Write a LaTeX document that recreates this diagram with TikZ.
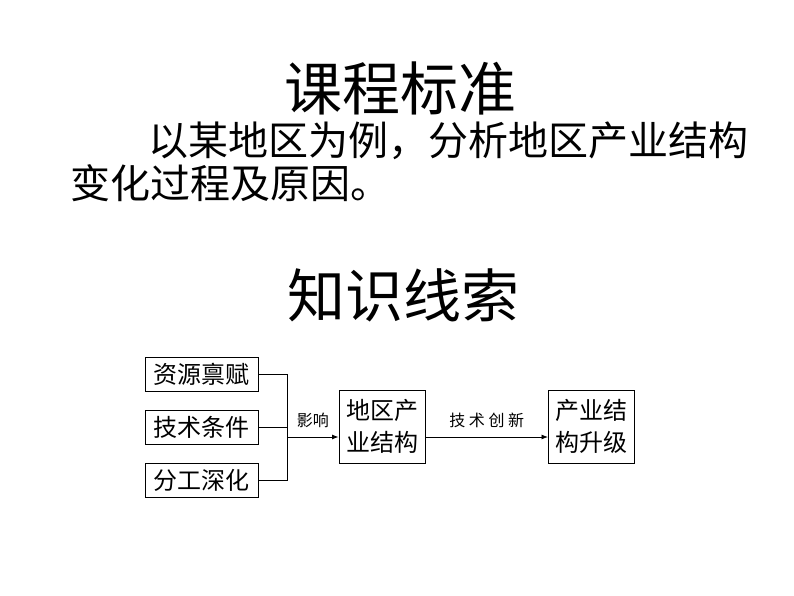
\documentclass[tikz,border=0pt]{standalone}
\usepackage{fontspec}
\setmainfont{Noto Sans CJK SC}
\usetikzlibrary{positioning,arrows.meta}
\begin{document}
\begin{tikzpicture}[x=1pt,y=-1pt,>=Latex,every node/.append style={align=center,inner sep=0pt},
  factor/.style={draw,thick,minimum width=113pt,minimum height=34pt,font=\fontsize{24}{26}\selectfont},
  stage/.style={draw,thick,minimum width=86pt,minimum height=73pt,font=\fontsize{24}{32}\selectfont},
  title/.style={font=\fontsize{58}{60}\selectfont},
  body/.style={font=\fontsize{40}{42}\selectfont,anchor=west},
  tag/.style={font=\fontsize{16}{16}\selectfont}]
    \useasboundingbox (0,0) rectangle (794,596);
    \node [title] (T1) at (400,88) {课程标准};
    \node [body] (L1) at (148,141) {以某地区为例，分析地区产业结构};
    \node [body] (L2) at (70,183) {变化过程及原因。};
    \node [title] (T2) at (403,295) {知识线索};
    \node [factor] (Res) at (201.5,374) {资源禀赋};
    \node [factor] (Tec) at (201.5,427) {技术条件};
    \node [factor] (Div) at (201.5,480) {分工深化};
    \node [stage] (Reg) at (382,426.5) {地区产\\业结构};
    \node [stage] (Upg) at (591.5,426.5) {产业结\\构升级};
    \coordinate (J1) at (287,374);
    \coordinate (J3) at (287,480);
    \coordinate (J2) at (287,437);
    \draw [thick] (Res.east) -- (J1) -- (J3) -- (Div.east);
    \draw [thick] (Tec.east) -- (Tec.east -| J1);
    \draw [thick,->] (J2) -- node [tag,above=9pt] {影响} (J2 -| Reg.west);
    \draw [thick,->] (J2 -| Reg.east) -- node [tag,above=9pt] {技 术 创 新} (J2 -| Upg.west);
\end{tikzpicture}
\end{document}
